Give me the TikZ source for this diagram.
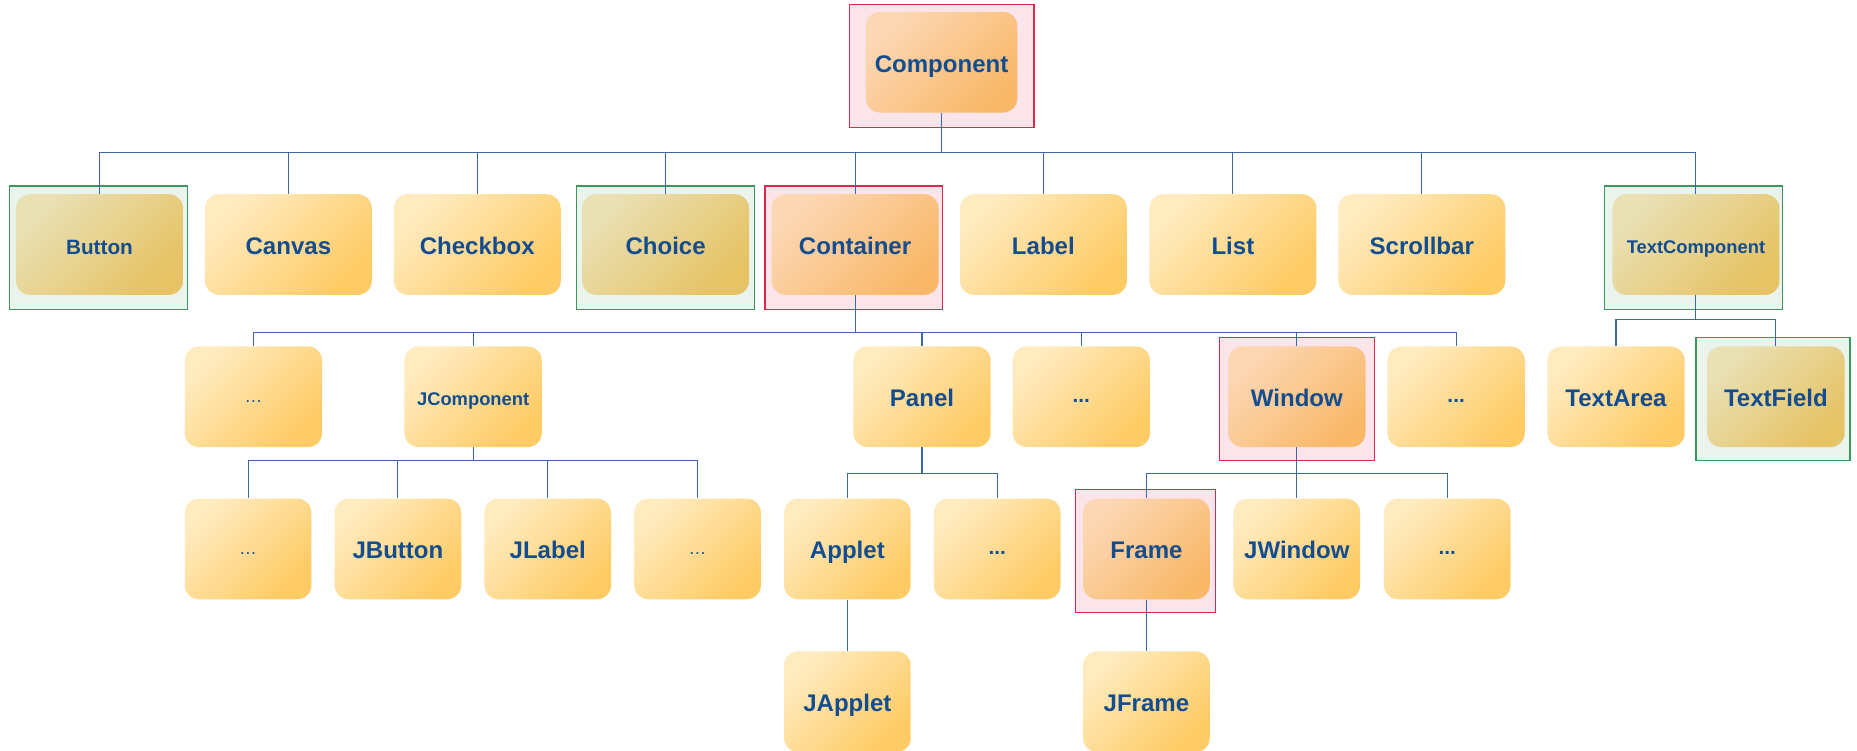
\documentclass[tikz,border=0pt]{standalone}
\usepackage{fontspec}
\setmainfont{Liberation Sans}
\definecolor{boxlight}{RGB}{255,235,192}
\definecolor{boxdark}{RGB}{254,203,100}
\definecolor{hotlight}{RGB}{252,215,180}
\definecolor{hotdark}{RGB}{249,184,104}
\definecolor{olivelight}{RGB}{233,224,180}
\definecolor{olivedark}{RGB}{230,195,100}
\definecolor{redline}{RGB}{221,40,76}
\definecolor{redfill}{RGB}{251,229,235}
\definecolor{greenline}{RGB}{60,150,96}
\definecolor{greenfill}{RGB}{234,243,236}
\definecolor{labelblue}{RGB}{18,77,145}
\definecolor{wire}{RGB}{62,104,170}
\begin{document}
\begin{tikzpicture}[x=1pt,y=-1pt,
		cls/.style={rounded corners=12pt, minimum height=85pt, inner sep=0pt,
			text=labelblue, text height=17pt, text depth=0pt,
			font=\fontsize{20.3}{24}\selectfont\bfseries},
		plain/.style={cls, top color=boxlight, bottom color=boxdark, shading angle=45},
		hot/.style={cls, top color=hotlight, bottom color=hotdark, shading angle=45},
		olive/.style={cls, top color=olivelight, bottom color=olivedark, shading angle=45},
		redmark/.style={draw=redline, fill=redfill, line width=1pt, minimum height=104pt, inner sep=0pt},
		greenmark/.style={draw=greenline, fill=greenfill, line width=1pt, minimum height=104pt, inner sep=0pt},
		link/.style={draw=wire, line width=0.9pt},
		midtext/.style={font=\fontsize{17.5}{21}\selectfont\bfseries},
		smalltext/.style={font=\fontsize{15.5}{19}\selectfont\bfseries, text height=15pt},
		lightdots/.style={font=\fontsize{15}{18}\selectfont, text height=10pt},
		bolddots/.style={midtext, text height=10pt}]
		\useasboundingbox (0,0) rectangle (1568,633.3);
		
		% marked classes
		\node[redmark, minimum width=156pt] (componentHL) at (795,56) {};
		\node[greenmark, minimum width=150pt] (buttonHL) at (83,209) {};
		\node[greenmark, minimum width=150pt] (choiceHL) at (562,209) {};
		\node[redmark, minimum width=150pt] (containerHL) at (721,209) {};
		\node[greenmark, minimum width=150pt] (textcompHL) at (1430,209) {};
		\node[redmark, minimum width=131pt] (windowHL) at (1095,337) {};
		\node[greenmark, minimum width=130pt] (textfieldHL) at (1497,337) {};
		\node[redmark, minimum width=118pt] (frameHL) at (967,465) {};
		
		\node[hot, minimum width=128pt] (component) at (795,52.5) {Component};
		
		\begin{scope}[every node/.style={minimum width=141pt}]
			\node[olive, midtext] (button) at (84,206.5) {Button};
			\node[plain] (canvas) at (243.5,206.5) {Canvas};
			\node[plain] (checkbox) at (403,206.5) {Checkbox};
			\node[olive] (choice) at (562,206.5) {Choice};
			\node[hot] (container) at (722,206.5) {Container};
			\node[plain] (label) at (881,206.5) {Label};
			\node[plain] (list) at (1041,206.5) {List};
			\node[plain] (scrollbar) at (1200.5,206.5) {Scrollbar};
			\node[olive, smalltext] (textcomp) at (1432,206.5) {TextComponent};
		\end{scope}
		
		\begin{scope}[every node/.style={minimum width=116pt}]
			\node[plain, lightdots] (dotsA) at (214,335) {…};
			\node[plain, smalltext] (jcomp) at (399.5,335) {JComponent};
			\node[plain] (panel) at (778.5,335) {Panel};
			\node[plain, bolddots] (dotsB) at (913,335) {...};
			\node[hot] (window) at (1095,335) {Window};
			\node[plain, bolddots] (dotsC) at (1229.5,335) {...};
			\node[plain] (textarea) at (1364.5,335) {TextArea};
			\node[olive] (textfield) at (1499.5,335) {TextField};
		\end{scope}
		
		\begin{scope}[every node/.style={minimum width=107pt}]
			\node[plain, lightdots] (dotsD) at (209.5,463.5) {…};
			\node[plain] (jbutton) at (336,463.5) {JButton};
			\node[plain] (jlabel) at (462.5,463.5) {JLabel};
			\node[plain, lightdots] (dotsE) at (589,463.5) {…};
			\node[plain] (applet) at (715.5,463.5) {Applet};
			\node[plain, bolddots] (dotsF) at (842,463.5) {...};
			\node[hot] (frame) at (968,463.5) {Frame};
			\node[plain] (jwindow) at (1095,463.5) {JWindow};
			\node[plain, bolddots] (dotsG) at (1222,463.5) {...};
			\node[plain] (japplet) at (715.5,592.5) {JApplet};
			\node[plain] (jframe) at (968,592.5) {JFrame};
		\end{scope}
		
		% buses
		\coordinate (busA) at (795,129);
		\coordinate (busB) at (722,281);
		\coordinate (busC) at (1432,270);
		\coordinate (busD) at (399.5,389);
		\coordinate (busE) at (778.5,400);
		\coordinate (busF) at (1095,400);
		
		\draw[link] (component.south) -- (busA);
		\foreach \n in {button,canvas,checkbox,choice,container,label,list,scrollbar,textcomp}
			\draw[link] (busA) -| (\n.north);
		\draw[link] (container.south) -- (busB);
		\foreach \n in {dotsA,jcomp,panel,dotsB,window,dotsC}
			\draw[link] (busB) -| (\n.north);
		\draw[link] (textcomp.south) -- (busC);
		\foreach \n in {textarea,textfield}
			\draw[link] (busC) -| (\n.north);
		\draw[link] (jcomp.south) -- (busD);
		\foreach \n in {dotsD,jbutton,jlabel,dotsE}
			\draw[link] (busD) -| (\n.north);
		\draw[link] (panel.south) -- (busE);
		\foreach \n in {applet,dotsF}
			\draw[link] (busE) -| (\n.north);
		\draw[link] (window.south) -- (busF);
		\foreach \n in {frame,jwindow,dotsG}
			\draw[link] (busF) -| (\n.north);
		\draw[link] (applet) -- (japplet);
		\draw[link] (frame) -- (jframe);
\end{tikzpicture}
\end{document}
